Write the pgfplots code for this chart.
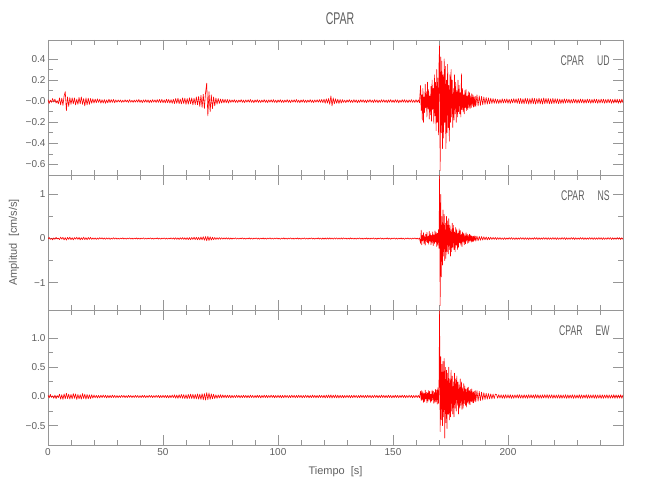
\documentclass[border=0pt]{standalone}
\usepackage{fontspec}
\setmainfont{Liberation Sans}
\newfontfamily\narrowfont{Liberation Sans}[FakeStretch=0.62]
\usepackage{pgfplots}
\pgfplotsset{compat=1.18}
\usepackage{pgfplotstable}
\definecolor{txt}{RGB}{95,95,95}
\definecolor{axc}{RGB}{150,150,150}
\definecolor{sred}{RGB}{255,0,0}

\pgfplotstableread{
t ud ns ew
0.0 0.015 -0.009 0.020
0.5 -0.022 0.024 -0.024
1.0 0.010 -0.021 0.036
1.5 -0.012 0.006 -0.016
2.0 0.025 -0.030 0.012
2.5 -0.008 0.015 -0.032
3.0 0.020 -0.018 0.024
3.5 -0.018 0.027 -0.036
4.0 0.005 -0.012 0.016
4.5 -0.025 0.009 -0.020
5.0 0.030 -0.024 0.040
5.5 -0.035 0.030 -0.045
6.0 0.028 -0.015 0.030
6.5 -0.040 0.027 -0.050
7.0 0.050 -0.030 0.045
7.5 0.090 0.020 -0.040
8.0 -0.090 -0.035 0.055
8.5 0.040 0.025 -0.035
9.0 -0.050 -0.020 0.040
9.5 0.035 0.030 -0.045
10.0 -0.030 -0.025 0.035
10.5 0.032 0.018 -0.040
11.0 -0.025 -0.030 0.050
11.5 0.030 0.022 -0.030
12.0 -0.035 -0.015 0.045
12.5 0.020 0.028 -0.050
13.0 -0.030 -0.020 0.035
13.5 0.035 0.025 -0.040
14.0 -0.025 -0.030 0.030
14.5 0.040 0.018 -0.045
15.0 -0.030 -0.022 0.050
15.5 0.025 0.030 -0.035
16.0 -0.045 -0.025 0.040
16.5 0.030 0.020 -0.045
17.0 -0.035 -0.028 0.035
17.5 0.028 0.024 -0.040
18.0 -0.030 -0.018 0.030
18.5 0.025 0.026 -0.035
19.0 -0.020 -0.020 0.030
19.5 0.022 0.015 -0.028
20.0 -0.018 -0.018 0.025
20.5 0.020 0.015 -0.022
21.0 -0.015 -0.020 0.020
21.5 0.022 0.012 -0.025
22.0 -0.012 -0.016 0.018
22.5 0.018 0.020 -0.024
23.0 -0.020 -0.010 0.022
23.5 0.014 0.018 -0.020
24.0 -0.018 -0.015 0.025
24.5 0.016 0.012 -0.018
25.0 -0.020 -0.018 0.022
25.5 0.012 0.014 -0.025
26.0 -0.016 -0.012 0.020
26.5 0.018 0.016 -0.022
27.0 -0.014 -0.020 0.018
27.5 0.015 0.010 -0.020
28.0 -0.012 -0.014 0.024
28.5 0.016 0.018 -0.018
29.0 -0.015 -0.012 0.020
29.5 0.012 0.015 -0.022
30.0 -0.010 -0.014 0.018
30.5 0.012 0.010 -0.020
31.0 -0.008 -0.015 0.015
31.5 0.011 0.012 -0.018
32.0 -0.012 -0.008 0.020
32.5 0.009 0.014 -0.016
33.0 -0.010 -0.012 0.018
33.5 0.013 0.010 -0.020
34.0 -0.008 -0.015 0.015
34.5 0.010 0.012 -0.018
35.0 -0.012 -0.010 0.020
35.5 0.014 0.014 -0.015
36.0 -0.010 -0.012 0.018
36.5 0.008 0.010 -0.020
37.0 -0.012 -0.015 0.016
37.5 0.010 0.012 -0.018
38.0 -0.009 -0.009 0.020
38.5 0.012 0.014 -0.016
39.0 -0.010 -0.012 0.018
39.5 0.016 0.010 -0.020
40.0 -0.012 -0.014 0.015
40.5 0.010 0.012 -0.018
41.0 -0.014 -0.010 0.020
41.5 0.012 0.015 -0.016
42.0 -0.010 -0.012 0.018
42.5 0.013 0.010 -0.020
43.0 -0.011 -0.014 0.016
43.5 0.012 0.012 -0.018
44.0 -0.015 -0.010 0.020
44.5 0.010 0.015 -0.015
45.0 -0.012 -0.012 0.018
45.5 0.014 0.010 -0.020
46.0 -0.010 -0.014 0.016
46.5 0.012 0.012 -0.018
47.0 -0.013 -0.010 0.020
47.5 0.015 0.015 -0.016
48.0 -0.012 -0.012 0.018
48.5 0.016 0.010 -0.022
49.0 -0.014 -0.014 0.018
49.5 0.018 0.012 -0.020
50.0 -0.015 -0.010 0.022
50.5 0.012 0.015 -0.018
51.0 -0.016 -0.012 0.020
51.5 0.018 0.010 -0.022
52.0 -0.014 -0.014 0.018
52.5 0.016 0.012 -0.024
53.0 -0.018 -0.010 0.020
53.5 0.015 0.016 -0.022
54.0 -0.020 -0.012 0.025
54.5 0.018 0.014 -0.020
55.0 -0.022 -0.016 0.028
55.5 0.025 0.018 -0.030
56.0 -0.020 -0.020 0.025
56.5 0.028 0.015 -0.032
57.0 -0.024 -0.022 0.030
57.5 0.020 0.018 -0.028
58.0 -0.026 -0.016 0.035
58.5 0.030 0.022 -0.030
59.0 -0.022 -0.020 0.032
59.5 0.028 0.018 -0.035
60.0 -0.030 -0.024 0.030
60.5 0.025 0.020 -0.038
61.0 -0.028 -0.025 0.035
61.5 0.032 0.022 -0.032
62.0 -0.025 -0.028 0.040
62.5 0.030 0.025 -0.035
63.0 -0.035 -0.022 0.038
63.5 0.028 0.030 -0.042
64.0 -0.032 -0.025 0.035
64.5 0.040 0.028 -0.040
65.0 -0.035 -0.030 0.042
65.5 0.045 0.025 -0.045
66.0 -0.050 -0.032 0.040
66.5 0.055 0.035 -0.050
67.0 -0.060 -0.030 0.048
67.5 0.065 0.040 -0.055
68.0 -0.070 -0.038 0.050
68.5 0.080 0.045 -0.060
69.0 0.170 -0.050 0.065
69.5 -0.140 0.048 -0.055
70.0 0.090 -0.045 0.060
70.5 -0.100 0.040 -0.050
71.0 0.060 -0.035 0.045
71.5 -0.070 0.030 -0.040
72.0 0.040 -0.028 0.038
72.5 -0.045 0.025 -0.035
73.0 0.030 -0.022 0.030
73.5 -0.028 0.020 -0.032
74.0 0.025 -0.018 0.028
74.5 -0.022 0.020 -0.025
75.0 0.020 -0.016 0.030
75.5 -0.018 0.018 -0.025
76.0 0.020 -0.015 0.028
76.5 -0.016 0.016 -0.022
77.0 0.018 -0.014 0.025
77.5 -0.015 0.018 -0.022
78.0 0.016 -0.012 0.024
78.5 -0.018 0.015 -0.020
79.0 0.014 -0.016 0.022
79.5 -0.012 0.012 -0.025
80.0 0.012 -0.015 0.020
80.5 -0.010 0.012 -0.022
81.0 0.014 -0.010 0.018
81.5 -0.012 0.015 -0.020
82.0 0.010 -0.012 0.022
82.5 -0.013 0.010 -0.018
83.0 0.011 -0.014 0.020
83.5 -0.009 0.012 -0.024
84.0 0.015 -0.010 0.018
84.5 -0.012 0.016 -0.020
85.0 0.010 -0.012 0.022
85.5 -0.014 0.010 -0.018
86.0 0.012 -0.015 0.020
86.5 -0.010 0.012 -0.022
87.0 0.013 -0.010 0.018
87.5 -0.011 0.014 -0.020
88.0 0.016 -0.012 0.024
88.5 -0.012 0.010 -0.018
89.0 0.010 -0.015 0.020
89.5 -0.015 0.012 -0.022
90.0 0.012 -0.010 0.018
90.5 -0.010 0.014 -0.020
91.0 0.014 -0.012 0.022
91.5 -0.012 0.010 -0.018
92.0 0.010 -0.016 0.020
92.5 -0.013 0.012 -0.024
93.0 0.011 -0.010 0.018
93.5 -0.010 0.014 -0.020
94.0 0.015 -0.012 0.022
94.5 -0.012 0.010 -0.018
95.0 0.010 -0.015 0.020
95.5 -0.014 0.012 -0.022
96.0 0.012 -0.010 0.018
96.5 -0.010 0.015 -0.020
97.0 0.013 -0.012 0.024
97.5 -0.011 0.010 -0.018
98.0 0.014 -0.014 0.020
98.5 -0.012 0.012 -0.022
99.0 0.010 -0.010 0.018
99.5 -0.015 0.015 -0.020
100.0 0.012 -0.012 0.022
100.5 -0.010 0.010 -0.018
101.0 0.014 -0.016 0.020
101.5 -0.012 0.012 -0.024
102.0 0.010 -0.010 0.018
102.5 -0.013 0.014 -0.020
103.0 0.011 -0.012 0.022
103.5 -0.010 0.010 -0.018
104.0 0.015 -0.015 0.020
104.5 -0.012 0.012 -0.022
105.0 0.010 -0.010 0.018
105.5 -0.014 0.014 -0.020
106.0 0.012 -0.012 0.024
106.5 -0.010 0.010 -0.018
107.0 0.013 -0.015 0.020
107.5 -0.011 0.012 -0.022
108.0 0.016 -0.010 0.018
108.5 -0.012 0.014 -0.020
109.0 0.010 -0.012 0.022
109.5 -0.015 0.010 -0.018
110.0 0.012 -0.016 0.020
110.5 -0.010 0.012 -0.024
111.0 0.014 -0.010 0.018
111.5 -0.012 0.014 -0.020
112.0 0.010 -0.012 0.022
112.5 -0.013 0.010 -0.018
113.0 0.011 -0.015 0.020
113.5 -0.010 0.012 -0.022
114.0 0.015 -0.010 0.018
114.5 -0.012 0.014 -0.020
115.0 0.010 -0.012 0.024
115.5 -0.014 0.010 -0.018
116.0 0.012 -0.015 0.020
116.5 -0.010 0.012 -0.022
117.0 0.013 -0.010 0.018
117.5 -0.011 0.014 -0.020
118.0 0.014 -0.012 0.022
118.5 -0.012 0.010 -0.018
119.0 0.016 -0.016 0.020
119.5 -0.014 0.012 -0.022
120.0 0.018 -0.014 0.022
120.5 -0.020 0.012 -0.025
121.0 0.022 -0.015 0.024
121.5 -0.018 0.014 -0.022
122.0 0.025 -0.012 0.026
122.5 -0.030 0.016 -0.024
123.0 0.050 -0.014 0.028
123.5 -0.045 0.012 -0.026
124.0 0.030 -0.015 0.024
124.5 -0.025 0.014 -0.022
125.0 0.022 -0.012 0.025
125.5 -0.020 0.016 -0.024
126.0 0.018 -0.014 0.022
126.5 -0.022 0.012 -0.025
127.0 0.016 -0.015 0.020
127.5 -0.018 0.014 -0.022
128.0 0.014 -0.012 0.020
128.5 -0.012 0.015 -0.022
129.0 0.010 -0.010 0.018
129.5 -0.014 0.012 -0.020
130.0 0.012 -0.014 0.022
130.5 -0.010 0.010 -0.018
131.0 0.015 -0.012 0.020
131.5 -0.012 0.015 -0.024
132.0 0.010 -0.010 0.018
132.5 -0.013 0.012 -0.020
133.0 0.014 -0.014 0.022
133.5 -0.011 0.010 -0.018
134.0 0.012 -0.015 0.020
134.5 -0.015 0.012 -0.022
135.0 0.010 -0.010 0.018
135.5 -0.012 0.014 -0.020
136.0 0.014 -0.012 0.024
136.5 -0.010 0.010 -0.018
137.0 0.013 -0.016 0.020
137.5 -0.012 0.012 -0.022
138.0 0.011 -0.010 0.018
138.5 -0.014 0.014 -0.020
139.0 0.012 -0.012 0.022
139.5 -0.010 0.010 -0.018
140.0 0.015 -0.015 0.020
140.5 -0.012 0.012 -0.024
141.0 0.010 -0.010 0.018
141.5 -0.013 0.014 -0.020
142.0 0.014 -0.012 0.022
142.5 -0.011 0.010 -0.018
143.0 0.012 -0.016 0.020
143.5 -0.015 0.012 -0.022
144.0 0.010 -0.010 0.018
144.5 -0.012 0.014 -0.020
145.0 0.014 -0.012 0.024
145.5 -0.010 0.010 -0.018
146.0 0.013 -0.015 0.020
146.5 -0.012 0.012 -0.022
147.0 0.011 -0.010 0.018
147.5 -0.014 0.014 -0.020
148.0 0.012 -0.012 0.022
148.5 -0.010 0.010 -0.018
149.0 0.015 -0.016 0.020
149.5 -0.012 0.012 -0.024
150.0 0.010 -0.010 0.018
150.5 -0.013 0.014 -0.020
151.0 0.014 -0.012 0.022
151.5 -0.011 0.010 -0.018
152.0 0.012 -0.015 0.020
152.5 -0.015 0.012 -0.022
153.0 0.010 -0.010 0.018
153.5 -0.012 0.014 -0.020
154.0 0.014 -0.012 0.024
154.5 -0.010 0.010 -0.018
155.0 0.013 -0.016 0.020
155.5 -0.012 0.012 -0.022
156.0 0.011 -0.010 0.018
156.5 -0.014 0.014 -0.020
157.0 0.012 -0.012 0.022
157.5 -0.010 0.010 -0.018
158.0 0.015 -0.015 0.020
158.5 -0.012 0.012 -0.024
159.0 0.010 -0.010 0.018
159.5 -0.013 0.014 -0.020
160.0 0.014 -0.012 0.022
160.5 -0.011 0.010 -0.018
161.0 0.012 -0.015 0.020
161.5 -0.015 0.012 -0.022
162.00 0.150 -0.110 0.090
162.25 -0.090 0.190 -0.070
162.50 0.060 -0.140 0.100
162.75 -0.180 0.080 -0.060
163.00 0.120 -0.050 0.080
163.25 -0.200 0.130 -0.100
163.50 0.040 -0.120 0.050
163.75 -0.110 0.060 -0.090
164.00 0.160 -0.150 0.110
164.25 -0.060 0.100 -0.040
164.50 0.090 -0.070 0.070
164.75 -0.150 0.140 -0.110
165.00 0.180 -0.090 0.060
165.25 -0.070 0.050 -0.080
165.50 0.110 -0.130 0.100
165.75 -0.170 0.160 -0.050
166.00 0.050 -0.060 0.090
166.25 -0.130 0.110 -0.100
166.50 0.140 -0.140 0.040
166.75 -0.190 0.070 -0.080
167.00 0.200 -0.100 0.110
167.25 -0.080 0.150 -0.060
167.50 0.120 -0.160 0.090
167.75 -0.210 0.090 -0.120
168.00 0.250 -0.120 0.070
168.25 -0.140 0.170 -0.100
168.50 0.180 -0.080 0.120
168.75 -0.280 0.140 -0.090
169.00 0.300 -0.180 0.110
169.25 -0.200 0.120 -0.130
169.50 0.220 -0.150 0.150
169.75 -0.320 0.200 -0.120
170.00 0.350 -0.220 0.180
170.25 0.530 1.430 1.470
170.50 -0.660 -1.520 -0.600
170.75 0.420 1.000 0.680
171.00 -0.300 -0.870 -0.400
171.25 0.380 0.500 0.550
171.50 -0.450 -0.600 -0.500
171.75 0.250 0.650 0.600
172.00 -0.350 -0.400 -0.350
172.25 0.400 0.550 0.650
172.50 -0.200 -0.500 -0.710
172.75 0.330 0.350 0.500
173.00 -0.450 -0.450 -0.450
173.25 0.200 0.500 0.450
173.50 -0.300 -0.300 -0.550
173.75 0.350 0.400 0.400
174.00 -0.250 -0.350 -0.300
174.25 0.150 0.450 0.500
174.50 -0.380 -0.250 -0.400
174.75 0.250 0.300 0.300
175.00 -0.200 -0.400 -0.350
175.25 0.300 0.200 0.450
175.50 -0.150 -0.300 -0.250
175.75 0.200 0.350 0.350
176.00 -0.250 -0.200 -0.300
176.25 0.120 0.300 0.250
176.50 -0.180 -0.250 -0.350
176.75 0.250 0.150 0.400
177.00 -0.120 -0.300 -0.200
177.25 0.180 0.250 0.300
177.50 -0.200 -0.150 -0.250
177.75 0.100 0.200 0.350
178.00 -0.150 -0.250 -0.150
178.25 0.200 0.120 0.250
178.50 -0.100 -0.200 -0.300
178.75 0.150 0.220 0.200
179.00 -0.120 -0.100 -0.200
179.25 0.080 0.180 0.300
179.50 -0.150 -0.150 -0.150
179.75 0.260 0.100 0.250
180.00 -0.080 -0.180 -0.220
180.25 0.120 0.150 0.150
180.50 -0.100 -0.080 -0.200
180.75 0.060 0.120 0.220
181.00 -0.120 -0.140 -0.120
181.25 0.100 0.080 0.180
181.50 -0.060 -0.120 -0.150
181.75 0.110 0.130 0.120
182.00 -0.090 -0.060 -0.180
182.25 0.050 0.100 0.150
182.50 -0.080 -0.110 -0.100
182.75 0.090 0.070 0.160
183.00 -0.060 -0.090 -0.130
183.25 0.080 0.100 0.100
183.50 -0.070 -0.050 -0.140
183.75 0.050 0.080 0.120
184.00 -0.060 -0.080 -0.090
184.25 0.070 0.060 0.130
184.50 -0.040 -0.070 -0.100
184.75 0.060 0.050 0.080
185.00 -0.055 -0.065 -0.110
185.25 0.040 0.060 0.090
185.50 -0.050 -0.040 -0.080
185.75 0.045 0.055 0.100
186.0 -0.050 -0.060 -0.090
186.5 0.060 0.055 0.100
187.0 -0.045 -0.050 -0.080
187.5 0.050 0.045 0.085
188.0 -0.040 -0.040 -0.070
188.5 0.045 0.045 0.075
189.0 -0.035 -0.035 -0.060
189.5 0.040 0.040 0.065
190.0 -0.030 -0.030 -0.050
190.5 0.035 0.035 0.055
191.0 -0.028 -0.030 -0.045
191.5 0.030 0.028 0.050
192.0 -0.025 -0.025 -0.040
192.5 0.028 0.030 0.045
193.0 -0.022 -0.022 -0.040
193.5 0.025 0.025 0.042
194.0 -0.020 -0.020 -0.035
194.5 0.022 0.024 0.040
195.0 -0.020 -0.022 0.035
195.5 0.018 0.020 -0.030
196.0 -0.022 -0.018 0.032
196.5 0.016 0.022 -0.028
197.0 -0.020 -0.020 0.030
197.5 0.022 0.016 -0.032
198.0 -0.018 -0.022 0.028
198.5 0.020 0.018 -0.030
199.0 -0.016 -0.020 0.032
199.5 0.022 0.016 -0.028
200.0 -0.020 -0.018 0.030
200.5 0.018 0.020 -0.028
201.0 -0.022 -0.016 0.030
201.5 0.020 0.022 -0.032
202.0 -0.016 -0.018 0.026
202.5 0.024 0.016 -0.030
203.0 -0.018 -0.022 0.028
203.5 0.022 0.018 -0.026
204.0 -0.020 -0.020 0.030
204.5 0.025 0.016 -0.028
205.0 -0.022 -0.018 0.032
205.5 0.026 0.022 -0.030
206.0 -0.024 -0.016 0.028
206.5 0.022 0.020 -0.032
207.0 -0.026 -0.022 0.030
207.5 0.028 0.018 -0.028
208.0 -0.022 -0.020 0.026
208.5 0.025 0.016 -0.030
209.0 -0.028 -0.022 0.032
209.5 0.024 0.018 -0.028
210.0 -0.026 -0.020 0.030
210.5 0.030 0.016 -0.026
211.0 -0.024 -0.018 0.028
211.5 0.026 0.022 -0.030
212.0 -0.028 -0.016 0.032
212.5 0.024 0.020 -0.028
213.0 -0.022 -0.022 0.030
213.5 0.028 0.018 -0.032
214.0 -0.026 -0.020 0.026
214.5 0.024 0.016 -0.030
215.0 -0.028 -0.018 0.028
215.5 0.030 0.022 -0.026
216.0 -0.024 -0.016 0.030
216.5 0.026 0.020 -0.028
217.0 -0.022 -0.022 0.032
217.5 0.025 0.018 -0.030
218.0 -0.026 -0.020 0.028
218.5 0.022 0.016 -0.026
219.0 -0.024 -0.018 0.030
219.5 0.026 0.022 -0.032
220.0 -0.022 -0.016 0.028
220.5 0.024 0.020 -0.030
221.0 -0.020 -0.022 0.026
221.5 0.022 0.018 -0.028
222.0 -0.024 -0.020 0.030
222.5 0.020 0.016 -0.032
223.0 -0.022 -0.018 0.028
223.5 0.018 0.022 -0.030
224.0 -0.020 -0.016 0.026
224.5 0.022 0.020 -0.028
225.0 -0.018 -0.022 0.030
225.5 0.020 0.018 -0.032
226.0 -0.016 -0.020 0.028
226.5 0.018 0.016 -0.030
227.0 -0.020 -0.018 0.026
227.5 0.016 0.022 -0.028
228.0 -0.018 -0.016 0.030
228.5 0.020 0.020 -0.032
229.0 -0.016 -0.022 0.028
229.5 0.018 0.018 -0.030
230.0 -0.020 -0.020 0.026
230.5 0.016 0.016 -0.028
231.0 -0.018 -0.018 0.030
231.5 0.020 0.022 -0.032
232.0 -0.016 -0.016 0.028
232.5 0.018 0.020 -0.030
233.0 -0.020 -0.022 0.026
233.5 0.016 0.018 -0.028
234.0 -0.018 -0.020 0.030
234.5 0.020 0.016 -0.032
235.0 -0.016 -0.018 0.028
235.5 0.018 0.022 -0.030
236.0 -0.020 -0.016 0.026
236.5 0.016 0.020 -0.028
237.0 -0.018 -0.022 0.030
237.5 0.020 0.018 -0.032
238.0 -0.016 -0.020 0.028
238.5 0.018 0.016 -0.030
239.0 -0.020 -0.018 0.026
239.5 0.016 0.022 -0.028
240.0 -0.018 -0.016 0.030
240.5 0.020 0.020 -0.032
241.0 -0.016 -0.022 0.028
241.5 0.018 0.018 -0.030
242.0 -0.020 -0.020 0.026
242.5 0.016 0.016 -0.028
243.0 -0.018 -0.018 0.030
243.5 0.020 0.022 -0.032
244.0 -0.016 -0.016 0.028
244.5 0.018 0.020 -0.030
245.0 -0.020 -0.022 0.026
245.5 0.016 0.018 -0.028
246.0 -0.018 -0.020 0.030
246.5 0.020 0.016 -0.032
247.0 -0.016 -0.018 0.028
247.5 0.018 0.022 -0.030
248.0 -0.020 -0.016 0.026
248.5 0.016 0.020 -0.028
249.0 -0.018 -0.022 0.030
249.5 0.020 0.018 -0.032
250.0 -0.016 -0.020 0.028
}\seis

\pgfplotsset{
  panel/.style={
    scale only axis, width=575pt, height=135pt, anchor=south west,
    xmin=0, xmax=250,
    xtick={0,50,100,150,200,250},
    minor x tick num=4,
    minor y tick num=1,
    tick align=inside,
    major tick length=10pt, minor tick length=5pt,
    axis line style={axc, line width=0.8pt},
    every tick/.style={axc, line width=0.8pt},
    tick label style={txt, font=\fontsize{10}{12}\selectfont},
    yticklabel style={xshift=1pt},
    clip=true,
  },
  seis/.style={sred, line width=0.6pt, line join=round},
}

\begin{document}
\begin{tikzpicture}
\path[use as bounding box] (0pt,0pt) rectangle (650pt,500pt);

\begin{axis}[panel, at={(48pt,325pt)},
  ymin=-0.70, ymax=0.58,
  ytick={-0.6,-0.4,-0.2,0,0.2,0.4},
  yticklabels={−0.6,−0.4,−0.2,−0.0,0.2,0.4},
  xticklabels={}]
\addplot[seis] table[x=t, y=ud]{\seis};
\node[anchor=east, txt, inner sep=0pt] at (rel axis cs:0.977,0.848) {\narrowfont\fontsize{14}{16}\selectfont CPAR\hspace{13pt}UD};
\end{axis}

\begin{axis}[panel, at={(48pt,190pt)},
  ymin=-1.62, ymax=1.44,
  ytick={-1,0,1},
  yticklabels={−1,0,1},
  xticklabels={}]
\addplot[seis] table[x=t, y=ns]{\seis};
\node[anchor=east, txt, inner sep=0pt] at (rel axis cs:0.977,0.848) {\narrowfont\fontsize{14}{16}\selectfont CPAR\hspace{13pt}NS};
\end{axis}

\begin{axis}[panel, at={(48pt,55pt)},
  ymin=-0.83, ymax=1.48,
  ytick={-0.5,0,0.5,1},
  yticklabels={−0.5,0.0,0.5,1.0},
  xticklabels={0,50,100,150,200,{}}]
\addplot[seis] table[x=t, y=ew]{\seis};
\node[anchor=east, txt, inner sep=0pt] at (rel axis cs:0.977,0.848) {\narrowfont\fontsize{14}{16}\selectfont CPAR\hspace{13pt}EW};
\end{axis}

\node[txt, font=\narrowfont\fontsize{17}{19}\selectfont] at (340pt,481.5pt) {CPAR};
\node[txt, font=\fontsize{11}{13}\selectfont] at (335.5pt,28.5pt) {Tiempo\ \ [s]};
\node[txt, rotate=90, font=\fontsize{11}{13}\selectfont] at (14pt,257.5pt) {Amplitud\ \ [cm/s/s]};
\end{tikzpicture}
\end{document}
